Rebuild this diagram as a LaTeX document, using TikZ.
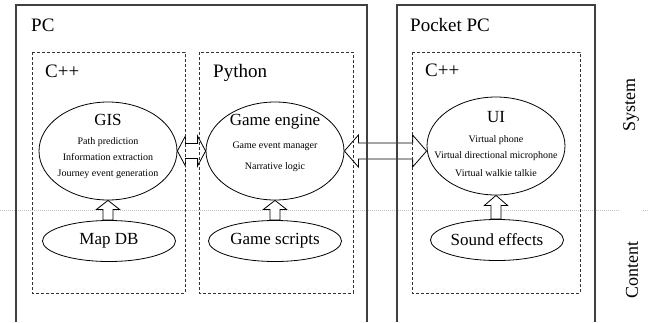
\documentclass[tikz,border=0pt]{standalone}
\usepackage{fontspec}
\setmainfont{Liberation Serif}
\usetikzlibrary{shapes.geometric,calc}

\tikzset{
  box/.style={draw=black!75,line width=1.1pt},
  lang/.style={draw=black!80,line width=0.9pt,dash pattern=on 3pt off 2pt},
  head/.style={anchor=base west,inner sep=0,font=\fontsize{19}{22}\selectfont},
  bigell/.style={draw,ellipse,fill=white,line width=0.8pt,minimum width=138pt,minimum height=98pt,inner sep=0},
  smallell/.style={draw,ellipse,fill=white,line width=0.8pt,minimum width=133pt,minimum height=41pt,inner sep=0,font=\fontsize{17}{20}\selectfont},
  title/.style={anchor=base,inner sep=0,font=\fontsize{17}{20}\selectfont},
  items/.style={align=center,inner sep=0,font=\fontsize{10}{12}\selectfont},
  fat/.style={draw,fill=white,line width=0.8pt,line join=miter},
  side/.style={rotate=90,inner sep=0,font=\fontsize{18}{20}\selectfont},
}

\begin{document}
\begin{tikzpicture}[x=1pt,y=-1pt]
\useasboundingbox (0,0) rectangle (648,322);
% border between system and content
\draw[gray!45,line width=1pt,densely dotted] (0,210) -- (620,210);
\draw[gray!45,line width=1pt,densely dotted] (643,210) -- (648,210);
% components
\node[bigell] (gis) at (108,151) {};
\node[title] (gistitle) at (108,125) {GIS};
\node[items] (gisitems) at (108,158) {Path prediction\\[4pt]Information extraction\\[4pt]Journey event generation};
\node[bigell] (engine) at (275,151) {};
\node[title] (enginetitle) at (275,125) {Game engine};
\node[items] (engineitems) at (275,157) {Game event manager\\[9pt]Narrative logic};
\node[bigell] (ui) at (496,146) {};
\node[title] (uititle) at (496,122) {UI};
\node[items] (uiitems) at (496,156) {Virtual phone\\[4pt]Virtual directional microphone\\[6pt]Virtual walkie talkie};
\node[smallell] (mapdb) at (109,241) {Map DB};
\node[smallell] (scripts) at (275,241) {Game scripts};
\node[smallell] (sounds) at (497,240) {Sound effects};
% block arrows
\draw[fat] let \p1=(gis.east), \p2=(engine.west) in
  (\x1,\y1) -- (\x1+8,\y1+15) -- (\x1+8,\y1+7.5) -- (\x2-8,\y1+7.5) -- (\x2-8,\y1+15)
  -- (\x2,\y1) -- (\x2-8,\y1-15) -- (\x2-8,\y1-7.5) -- (\x1+8,\y1-7.5) -- (\x1+8,\y1-15) -- cycle;
\draw[fat] let \p1=(engine.east), \p2=(ui.west) in
  (\x1,\y1) -- (\x1+14,\y1+16) -- (\x1+14,\y1+8) -- (\x2-14,\y1+8) -- (\x2-14,\y1+16)
  -- (\x2,\y1) -- (\x2-14,\y1-16) -- (\x2-14,\y1-8) -- (\x1+14,\y1-8) -- (\x1+14,\y1-16) -- cycle;
\draw[fat] let \p1=(mapdb.north), \p2=(gis.south) in
  (\x2,\y2) -- (\x2+11.5,\y2-9) -- (\x2+5,\y2-9) -- (\x2+5,\y1) -- (\x2-5,\y1)
  -- (\x2-5,\y2-9) -- (\x2-11.5,\y2-9) -- cycle;
\draw[fat] let \p1=(scripts.north), \p2=(engine.south) in
  (\x2,\y2) -- (\x2+11.5,\y2-9) -- (\x2+5,\y2-9) -- (\x2+5,\y1) -- (\x2-5,\y1)
  -- (\x2-5,\y2-9) -- (\x2-11.5,\y2-9) -- cycle;
\draw[fat] let \p1=(sounds.north), \p2=(ui.south) in
  (\x2,\y2) -- (\x2+11.5,\y2-10) -- (\x2+5,\y2-10) -- (\x2+5,\y1) -- (\x2-5,\y1)
  -- (\x2-5,\y2-10) -- (\x2-11.5,\y2-10) -- cycle;
% machines and languages
\draw[box] (16,322) |- (367,5) -- (367,322);
\draw[box] (397,322) |- (595,5) -- (595,322);
\draw[lang] (32,52) rectangle (185,293);
\draw[lang] (199,52) rectangle (353,293);
\draw[lang] (412,52) rectangle (580,293);
\node[head] (pc) at (31,31) {PC};
\node[head] (pclang) at (45,77) {C++};
\node[head] (python) at (213,77) {Python};
\node[head] (pocket) at (410,31) {Pocket PC};
\node[head] (pocketlang) at (425,76) {C++};
\node[side] (system) at (631,105) {System};
\node[side] (content) at (632,270) {Content};
\end{tikzpicture}
\end{document}
